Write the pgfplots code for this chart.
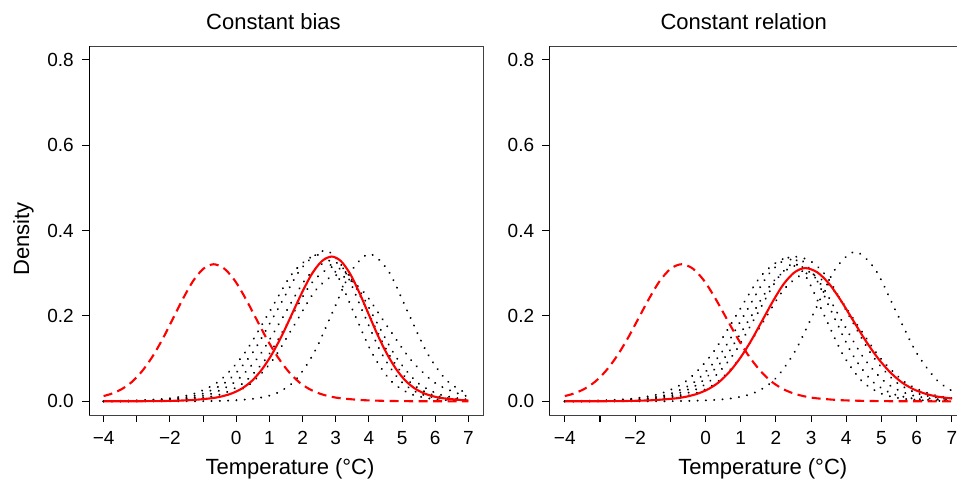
\documentclass[border=0pt]{standalone}
\usepackage{fontspec}
\setmainfont{Liberation Sans}
\usepackage{pgfplots}
\pgfplotsset{compat=1.18}
\definecolor{rred}{RGB}{255,0,0}
\pgfplotsset{
  panel/.style={
    scale only axis, anchor=south west, height=369pt,
    xmin=-4.44, xmax=7.44, ymin=-0.032, ymax=0.832,
    axis line style={black!75, line width=0.8pt},
    tick align=outside, major tick length=7pt,
    every tick/.style={black, line width=1.1pt},
    xtick pos=bottom, ytick pos=left,
    xtick={-4,-3,-2,-1,0,1,2,3,4,5,6,7},
    xticklabels={−4,{},−2,{},0,1,2,3,4,5,6,7},
    ytick={0,0.2,0.4,0.6,0.8},
    yticklabels={0.0,0.2,0.4,0.6,0.8},
    tick label style={font=\fontsize{19}{22}\selectfont},
    xticklabel style={anchor=north, inner sep=0pt, yshift=-9pt},
    yticklabel style={anchor=east, inner sep=0pt, xshift=-8pt},
  },
  dotc/.style={black, line width=2.1pt, line cap=round, dash pattern=on 0.1pt off 8.2pt, smooth},
  solidc/.style={rred, line width=2.1pt, smooth},
  dashc/.style={rred, line width=2.1pt, dash pattern=on 9pt off 5.5pt, smooth},
}
\begin{document}
\begin{tikzpicture}
\useasboundingbox (0pt,0pt) rectangle (957pt,480pt);
\clip (0pt,0pt) rectangle (957pt,480pt);
% ---------------- left panel ----------------
\begin{axis}[panel, at={(89pt,65pt)}, width=394pt]
\addplot[dotc] coordinates {(-4,0.0006) (-3.43,0.0012) (-2.695,0.0031) (-1.96,0.0075) (-1.225,0.0192) (-0.49,0.0490) (0.245,0.1122) (0.98,0.2068) (1.715,0.3018) (2.45,0.343) (3.0,0.3018) (3.55,0.2068) (4.1,0.1122) (4.65,0.0490) (5.2,0.0192) (5.75,0.0075) (6.3,0.0031) (6.85,0.0012) (7,0.0010)};
\addplot[dotc] coordinates {(-4,0.0004) (-3.845,0.0005) (-3.12,0.0013) (-2.395,0.0032) (-1.67,0.0078) (-0.945,0.0198) (-0.22,0.0505) (0.505,0.1154) (1.23,0.2129) (1.955,0.3106) (2.68,0.353) (3.24,0.3106) (3.80,0.2129) (4.36,0.1154) (4.92,0.0505) (5.48,0.0198) (6.04,0.0078) (6.60,0.0032) (7,0.0017)};
\addplot[dotc] coordinates {(-4,0.0003) (-3.585,0.0005) (-2.87,0.0012) (-2.155,0.0030) (-1.44,0.0073) (-0.725,0.0185) (-0.01,0.0472) (0.705,0.1079) (1.42,0.1990) (2.135,0.2904) (2.85,0.330) (3.44,0.2904) (4.03,0.1990) (4.62,0.1079) (5.21,0.0472) (5.80,0.0185) (6.39,0.0073) (7,0.0029)};
\addplot[dotc] coordinates {(-4,0.0001) (-3.80,0.0002) (-3.125,0.0004) (-2.45,0.0011) (-1.775,0.0028) (-1.10,0.0069) (-0.425,0.0176) (0.25,0.0450) (0.925,0.1030) (1.60,0.1899) (2.275,0.2772) (2.95,0.315) (3.575,0.2772) (4.20,0.1899) (4.825,0.1030) (5.45,0.0450) (6.075,0.0176) (6.70,0.0069) (7,0.0045)};
\addplot[dotc] coordinates {(-4,0.0001) (-3.45,0.0002) (-2.80,0.0004) (-2.15,0.0011) (-1.50,0.0027) (-0.85,0.0065) (-0.20,0.0166) (0.45,0.0423) (1.10,0.0968) (1.75,0.1785) (2.40,0.2605) (3.05,0.296) (3.79,0.2605) (4.53,0.1785) (5.27,0.0968) (6.01,0.0423) (6.75,0.0166) (7,0.0121)};
\addplot[dotc] coordinates {(-4,0.0000) (-1.58,0.0002) (-1.02,0.0005) (-0.46,0.0012) (0.10,0.0031) (0.66,0.0076) (1.22,0.0193) (1.78,0.0493) (2.34,0.1128) (2.90,0.2080) (3.46,0.3036) (4.02,0.345) (4.60,0.3036) (5.18,0.2080) (5.76,0.1128) (6.34,0.0493) (6.92,0.0193) (7,0.0170)};
\addplot[solidc] coordinates {(-4,0.0001) (-3.12,0.0002) (-2.52,0.0005) (-1.92,0.0012) (-1.32,0.0031) (-0.72,0.0075) (-0.42,0.0119) (-0.12,0.0190) (0.18,0.0305) (0.48,0.0485) (0.78,0.0753) (1.08,0.1109) (1.38,0.1546) (1.68,0.2044) (1.98,0.2543) (2.28,0.2983) (2.58,0.3282) (2.88,0.339) (3.1575,0.3282) (3.435,0.2983) (3.7125,0.2543) (3.99,0.2044) (4.2675,0.1546) (4.545,0.1109) (4.8225,0.0753) (5.10,0.0485) (5.3775,0.0305) (5.655,0.0190) (5.9325,0.0119) (6.21,0.0075) (6.765,0.0031) (7,0.0021)};
\addplot[dashc] coordinates {(-4,0.0124) (-3.755,0.0180) (-3.4475,0.0289) (-3.14,0.0459) (-2.8325,0.0713) (-2.525,0.1050) (-2.2175,0.1464) (-1.91,0.1936) (-1.6025,0.2408) (-1.295,0.2825) (-0.9875,0.3107) (-0.68,0.321) (-0.36,0.3107) (-0.04,0.2825) (0.28,0.2408) (0.60,0.1936) (0.92,0.1464) (1.24,0.1050) (1.56,0.0713) (1.88,0.0459) (2.20,0.0289) (2.52,0.0180) (2.84,0.0112) (3.16,0.0071) (3.80,0.0029) (4.44,0.0012) (5.08,0.0004) (5.72,0.0002) (7,0.0000)};
\draw[black, line width=1.6pt] (rel axis cs:0,0) -- (rel axis cs:0,1);
\end{axis}
% ---------------- right panel ----------------
\begin{axis}[panel, at={(549.3pt,65pt)}, width=418pt]
\addplot[dotc] coordinates {(-4,0.0005) (-3.38,0.0012) (-2.67,0.0030) (-1.96,0.0074) (-1.25,0.0188) (-0.54,0.0479) (0.17,0.1095) (0.88,0.2020) (1.59,0.2948) (2.30,0.335) (2.835,0.2948) (3.37,0.2020) (3.905,0.1095) (4.44,0.0479) (4.975,0.0188) (5.51,0.0074) (6.045,0.0030) (6.58,0.0012) (7,0.0006)};
\addplot[dotc] coordinates {(-4,0.0003) (-3.71,0.0005) (-3.02,0.0012) (-2.33,0.0031) (-1.64,0.0075) (-0.95,0.0190) (-0.26,0.0486) (0.43,0.1112) (1.12,0.2050) (1.81,0.2992) (2.50,0.340) (3.055,0.2992) (3.61,0.2050) (4.165,0.1112) (4.72,0.0486) (5.275,0.0190) (5.83,0.0075) (6.385,0.0031) (7,0.0011)};
\addplot[dotc] coordinates {(-4,0.0002) (-3.52,0.0004) (-2.84,0.0011) (-2.16,0.0029) (-1.48,0.0070) (-0.80,0.0178) (-0.12,0.0455) (0.56,0.1040) (1.24,0.1918) (1.92,0.2798) (2.60,0.318) (3.225,0.2798) (3.85,0.1918) (4.475,0.1040) (5.10,0.0455) (5.725,0.0178) (6.35,0.0070) (7,0.0028)};
\addplot[dotc] coordinates {(-4,0.0001) (-3.83,0.0002) (-3.17,0.0005) (-2.51,0.0012) (-1.85,0.0030) (-1.19,0.0074) (-0.53,0.0188) (0.13,0.0479) (0.79,0.1095) (1.45,0.2020) (2.11,0.2948) (2.77,0.335) (3.42,0.2948) (4.07,0.2020) (4.72,0.1095) (5.37,0.0479) (6.02,0.0188) (6.67,0.0074) (7,0.0047)};
\addplot[dotc] coordinates {(-4,0.0001) (-3.60,0.0002) (-2.95,0.0004) (-2.30,0.0011) (-1.65,0.0027) (-1.00,0.0066) (-0.35,0.0168) (0.30,0.0429) (0.95,0.0981) (1.60,0.1809) (2.25,0.2640) (2.90,0.300) (3.60,0.2640) (4.30,0.1809) (5.00,0.0981) (5.70,0.0429) (6.40,0.0168) (7,0.0075)};
\addplot[dotc] coordinates {(-4,0.0000) (-1.50,0.0002) (-0.925,0.0005) (-0.35,0.0013) (0.225,0.0032) (0.80,0.0077) (1.375,0.0196) (1.95,0.0501) (2.525,0.1145) (3.10,0.2111) (3.675,0.308) (4.25,0.350) (4.83,0.308) (5.41,0.2111) (5.99,0.1145) (6.57,0.0501) (7,0.0250)};
\addplot[solidc] coordinates {(-4,0.0001) (-3.315,0.0002) (-2.70,0.0004) (-2.085,0.0011) (-1.47,0.0028) (-0.855,0.0069) (-0.5475,0.0109) (-0.24,0.0175) (0.0675,0.0281) (0.375,0.0446) (0.6825,0.0693) (0.99,0.1020) (1.2975,0.1423) (1.605,0.1881) (1.9125,0.2340) (2.22,0.2746) (2.5275,0.3020) (2.835,0.312) (3.1775,0.3020) (3.52,0.2746) (3.8625,0.2340) (4.205,0.1881) (4.5475,0.1423) (4.89,0.1020) (5.2325,0.0693) (5.575,0.0446) (5.9175,0.0281) (6.26,0.0175) (6.6025,0.0109) (7,0.0066)};
\addplot[dashc] coordinates {(-4,0.0124) (-3.755,0.0180) (-3.4475,0.0289) (-3.14,0.0459) (-2.8325,0.0713) (-2.525,0.1050) (-2.2175,0.1464) (-1.91,0.1936) (-1.6025,0.2408) (-1.295,0.2825) (-0.9875,0.3107) (-0.68,0.321) (-0.36,0.3107) (-0.04,0.2825) (0.28,0.2408) (0.60,0.1936) (0.92,0.1464) (1.24,0.1050) (1.56,0.0713) (1.88,0.0459) (2.20,0.0289) (2.52,0.0180) (2.84,0.0112) (3.16,0.0071) (3.80,0.0029) (4.44,0.0012) (5.08,0.0004) (5.72,0.0002) (7,0.0000)};
\draw[black, line width=1.6pt] (rel axis cs:0,0) -- (rel axis cs:0,1);
\end{axis}
% ---------------- titles and labels ----------------
\node[anchor=base, inner sep=0pt, font=\fontsize{22}{26}\selectfont] at (273.5pt,450.7pt) {Constant bias};
\node[anchor=base, inner sep=0pt, font=\fontsize{22}{26}\selectfont] at (743.7pt,450.7pt) {Constant relation};
\node[anchor=base, inner sep=0pt, font=\fontsize{22}{26}\selectfont] at (290pt,5.7pt) {Temperature (°C)};
\node[anchor=base, inner sep=0pt, font=\fontsize{22}{26}\selectfont] at (762.8pt,5.7pt) {Temperature (°C)};
\node[anchor=base, inner sep=0pt, rotate=90, font=\fontsize{22}{26}\selectfont] at (29pt,241pt) {Density};
\end{tikzpicture}
\end{document}
